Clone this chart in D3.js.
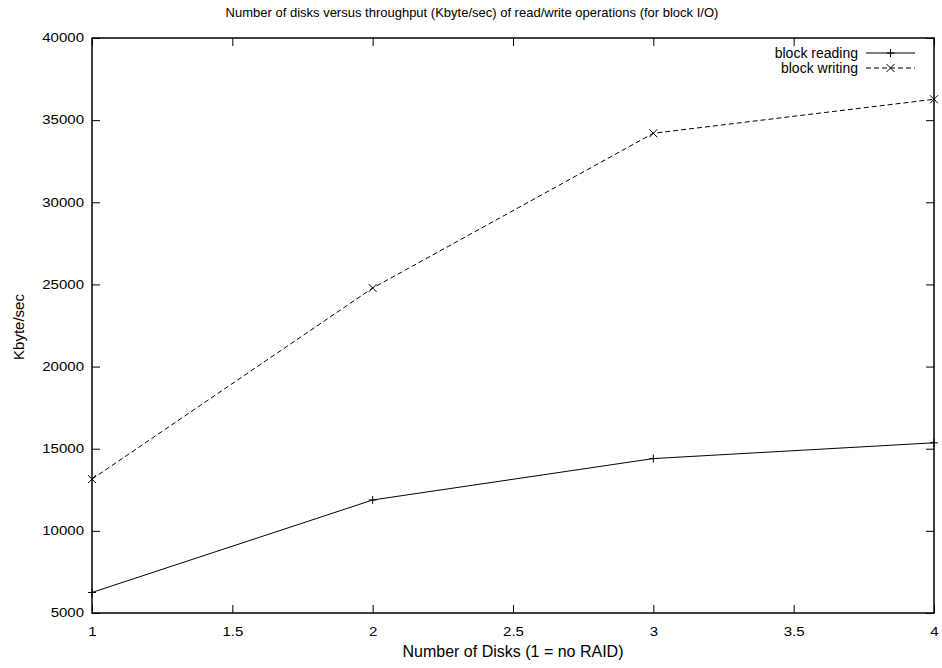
<!DOCTYPE html>
<html>
<head>
<meta charset="utf-8">
<script src="https://cdn.jsdelivr.net/npm/d3@7"></script>
<style>
  body { margin: 0; background: #fff; }
  text { font-family: "Liberation Sans", Arial, sans-serif; font-size: 12px; fill: #000; }
</style>
</head>
<body>
<div id="chart"></div>
<script>
// number of disks
var disks = [1, 2, 3, 4];
// Kbyte/sec
var blockReading = [6250, 11880, 14400, 15360];
var blockWriting = [13150, 24780, 34200, 36270];
var xTicks = [1, 1.5, 2, 2.5, 3, 3.5, 4];
var yTicks = [5000, 10000, 15000, 20000, 25000, 30000, 35000, 40000];

var svgWidth = 942, svgHeight = 668;
var margin = { top: 38, right: 8, bottom: 55, left: 92 },
    width = svgWidth - margin.left - margin.right,
    height = svgHeight - margin.top - margin.bottom;

var svg = d3.select("#chart").append("svg")
    .attr("width", svgWidth)
    .attr("height", svgHeight);

var g = svg.append("g")
    .attr("transform", `translate(${margin.left},${margin.top})`);

var x = d3.scaleLinear().domain([1, 4]).range([0, width]);
var y = d3.scaleLinear().domain([5000, 40000]).range([height, 0]);

// the original font is a bit wider than Liberation Sans, stretch it
function stretch(sel, k) {
    sel.each(function() {
        var w = this.getComputedTextLength();
        d3.select(this).attr("textLength", w * k).attr("lengthAdjust", "spacingAndGlyphs");
    });
}

// axes: gnuplot-style inward ticks, mirrored on all sides
var tick = 8;
function styleAxis(sel) {
    sel.select(".domain").remove();
    sel.selectAll("line").attr("stroke", "#000").attr("stroke-width", 1);
    sel.selectAll("text").style("font-size", "12px").style("font-family", "Liberation Sans, Arial, sans-serif");
}
g.append("g").attr("transform", `translate(0,${height})`)
    .call(d3.axisBottom(x).tickValues(xTicks).tickSize(-tick).tickPadding(14).tickFormat(d3.format("")))
    .call(styleAxis);
g.append("g")
    .call(d3.axisTop(x).tickValues(xTicks).tickSize(-tick).tickFormat(""))
    .call(styleAxis);
g.append("g")
    .call(d3.axisLeft(y).tickValues(yTicks).tickSize(-tick).tickPadding(8).tickFormat(d3.format("")))
    .call(styleAxis);
g.append("g").attr("transform", `translate(${width},0)`)
    .call(d3.axisRight(y).tickValues(yTicks).tickSize(-tick).tickFormat(""))
    .call(styleAxis);

g.selectAll(".tick text").call(stretch, 1.25);

g.append("rect")
    .attr("width", width).attr("height", height)
    .attr("fill", "none").attr("stroke", "#000").attr("stroke-width", 1.5);

// series
var series = [
    { name: "block reading", values: blockReading, dash: null, marker: "plus" },
    { name: "block writing", values: blockWriting, dash: "5,3", marker: "cross" }
];

var line = d3.line().x((d, i) => x(disks[i])).y(d => y(d));

function marker(sel, type, cx, cy) {
    var s = 4;
    var p = type === "plus"
        ? `M${cx - s},${cy}H${cx + s}M${cx},${cy - s}V${cy + s}`
        : `M${cx - s},${cy - s}L${cx + s},${cy + s}M${cx - s},${cy + s}L${cx + s},${cy - s}`;
    sel.append("path").attr("d", p).attr("stroke", "#000").attr("stroke-width", 1).attr("fill", "none");
}

series.forEach(function(s) {
    g.append("path")
        .datum(s.values)
        .attr("d", line)
        .attr("fill", "none")
        .attr("stroke", "#000")
        .attr("stroke-width", 1)
        .attr("stroke-dasharray", s.dash);
    s.values.forEach(function(v, i) {
        marker(g, s.marker, x(disks[i]), y(v));
    });
});

// legend
var legend = svg.append("g");
series.forEach(function(s, i) {
    var ly = 53 + i * 15;
    legend.append("text")
        .attr("x", 858).attr("y", ly + 5)
        .attr("text-anchor", "end")
        .style("font-size", "14px")
        .text(s.name);
    legend.append("line")
        .attr("x1", 866).attr("x2", 915)
        .attr("y1", ly).attr("y2", ly)
        .attr("stroke", "#000").attr("stroke-width", 1)
        .attr("stroke-dasharray", s.dash);
    marker(legend, s.marker, 890.5, ly);
});

// titles
svg.append("text")
    .attr("x", 472).attr("y", 17)
    .attr("text-anchor", "middle")
    .style("font-size", "13px")
    .text("Number of disks versus throughput (Kbyte/sec) of read/write operations (for block I/O)");

svg.append("text")
    .attr("x", 513).attr("y", 657)
    .attr("text-anchor", "middle")
    .style("font-size", "16px")
    .text("Number of Disks (1 = no RAID)");

svg.append("text")
    .attr("transform", "translate(24,327) rotate(-90)")
    .attr("text-anchor", "middle")
    .style("font-size", "15px")
    .text("Kbyte/sec");
</script>
</body>
</html>
